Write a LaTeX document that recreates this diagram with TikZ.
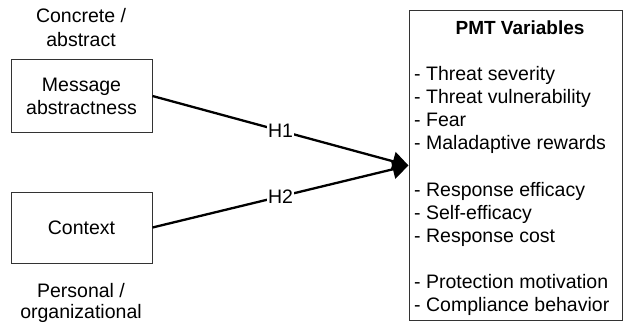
\documentclass[tikz,border=0pt]{standalone}
\usepackage{fontspec}
\setmainfont{Liberation Sans}
\usetikzlibrary{arrows.meta}
\begin{document}
\begin{tikzpicture}[x=1pt,y=-1pt,
  every node/.style={font=\fontsize{19.5}{23}\selectfont},
  box/.style={draw=black!80,line width=1pt,rectangle,align=center,inner sep=0pt},
  txt/.style={anchor=base,inner sep=0pt},
  item/.style={anchor=base west,inner sep=0pt},
  conn/.style={draw=black,line width=2.3pt,-{Triangle[length=16pt,width=19pt]}},
  lab/.style={fill=white,inner sep=1pt,pos=0.5}]
\useasboundingbox (0,0) rectangle (623,323);
\fill[white] (0,0) rectangle (623,323);
% left boxes
\node[box,minimum width=141pt,minimum height=73pt] (msg) at (81.5,96) {Message\\abstractness};
\node[box,minimum width=141pt,minimum height=71pt] (ctx) at (81.5,227.5) {Context};
% captions
\node[txt] (c1) at (81,23) {Concrete /};
\node[txt] (c2) at (81,47) {abstract};
\node[txt] (p1) at (81,297) {Personal /};
\node[txt] (p2) at (81,318) {organizational};
% right box
\node[box,minimum width=213pt,minimum height=309pt] (pmt) at (515.5,165.5) {};
\node[txt,font=\fontsize{19}{23}\selectfont\bfseries] (title) at (520,35) {PMT Variables};
\node[item] (l1) at (414,81) {- Threat severity};
\node[item] (l2) at (414,104) {- Threat vulnerability};
\node[item] (l3) at (414,127) {- Fear};
\node[item] (l4) at (414,150) {- Maladaptive rewards};
\node[item] (l5) at (414,196) {- Response efficacy};
\node[item] (l6) at (414,219) {- Self-efficacy};
\node[item] (l7) at (414,242) {- Response cost};
\node[item] (l8) at (414,288) {- Protection motivation};
\node[item] (l9) at (414,311) {- Compliance behavior};
% connectors
\draw[conn] (msg.east) -- node[lab] (h1) {H1} (pmt.west);
\draw[conn] (ctx.east) -- node[lab] (h2) {H2} (pmt.west);
\end{tikzpicture}
\end{document}
